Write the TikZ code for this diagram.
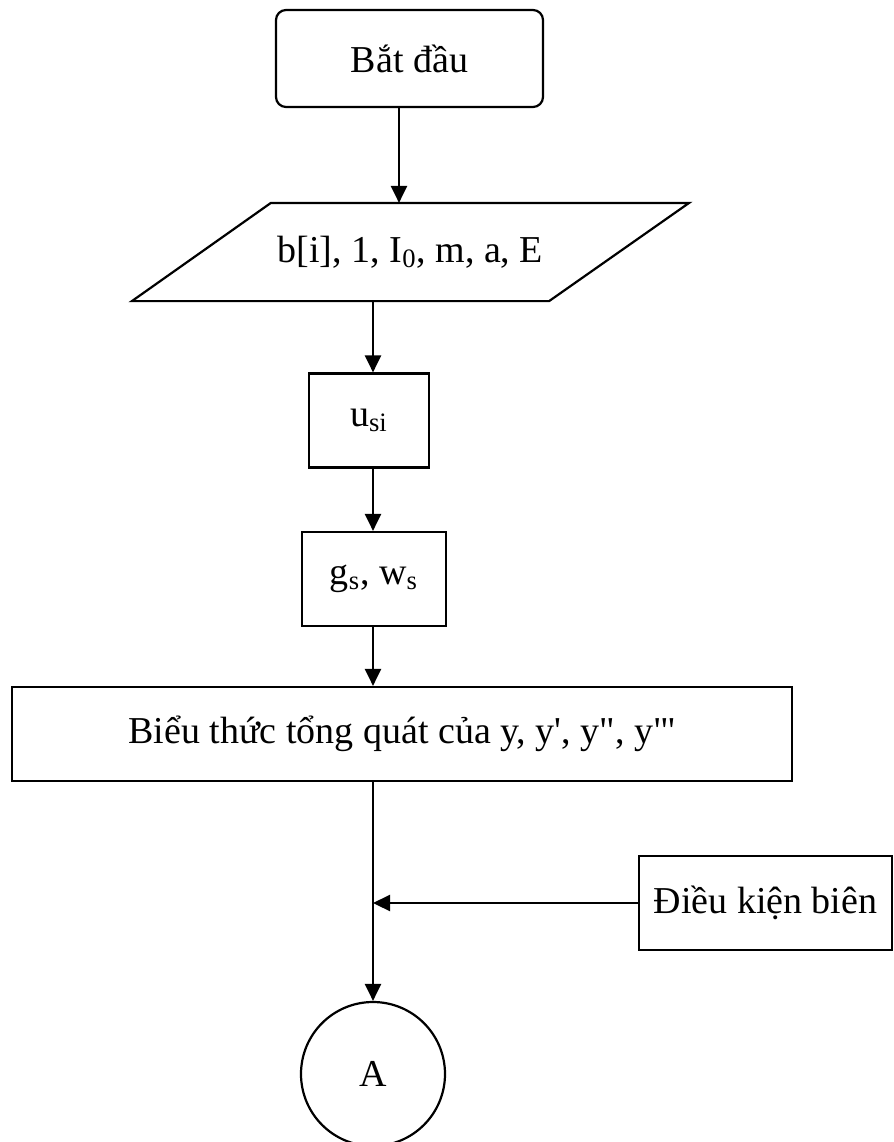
\documentclass[tikz,border=0pt]{standalone}
\usepackage{fontspec}
\setmainfont{Liberation Serif}
\usetikzlibrary{arrows.meta}

\begin{document}
\begin{tikzpicture}[%
      x=0.5pt, y=-0.5pt,
      every node/.style={draw, line width=1.1pt, inner sep=2pt,
                         font={\fontsize{19}{22}\selectfont}},
      terminal/.style={rounded corners=5pt, minimum width=133.5pt,
                       minimum height=48.5pt},
      io/.style={draw=none, minimum width=208pt, minimum height=48pt},
      process/.style={rectangle, minimum height=47pt},
      connector/.style={circle, minimum size=72pt},
      flow/.style={line width=1.1pt, -{Triangle[length=8.5pt,width=8pt]}}
    ]
    \useasboundingbox (0,0) rectangle (894,1142);
    \node [terminal] (start) at (409.5,58.5) {Bắt đầu};
    \node [io] (input) at (410.5,252) {b[i], 1, I\textsubscript{0}, m, a, E};
    \draw [line width=1.1pt] ([xshift=34.75pt]input.north west)
     -- ([xshift=34.75pt]input.north east) -- ([xshift=-35.25pt]input.south east)
     -- ([xshift=-34.75pt]input.south west) -- cycle;
    \node [process, minimum width=60pt] (usi) at (369,420.5) {u\textsubscript{si}};
    \node [process, minimum width=72pt] (gw) at (374,579) {g\textsubscript{s}, w\textsubscript{s}};
    \node [process, minimum width=390pt] (expr) at (402,734)
     {Biểu thức tổng quát của y, y\textquotesingle, y\textquotedbl, y\textquotedbl\textquotesingle};
    \node [process, minimum width=126.5pt] (bound) at (765.5,903) {Điều kiện biên};
    \node [connector] (A) at (373,1074) {A};
    \coordinate (join) at (373,903);
    % flow lines
    \draw [flow] ([xshift=-5.25pt]start.south) -- ([xshift=-5.25pt]start.south |- input.north);
    \draw [flow] (input.south -| join) -- (usi.north -| join);
    \draw [flow] (usi.south -| join) -- (gw.north -| join);
    \draw [flow] (gw.south -| join) -- (expr.north -| join);
    \draw [flow] (expr.south -| join) -- (A.north);
    \draw [flow] (bound.west) -- (join);
   \end{tikzpicture}
\end{document}
